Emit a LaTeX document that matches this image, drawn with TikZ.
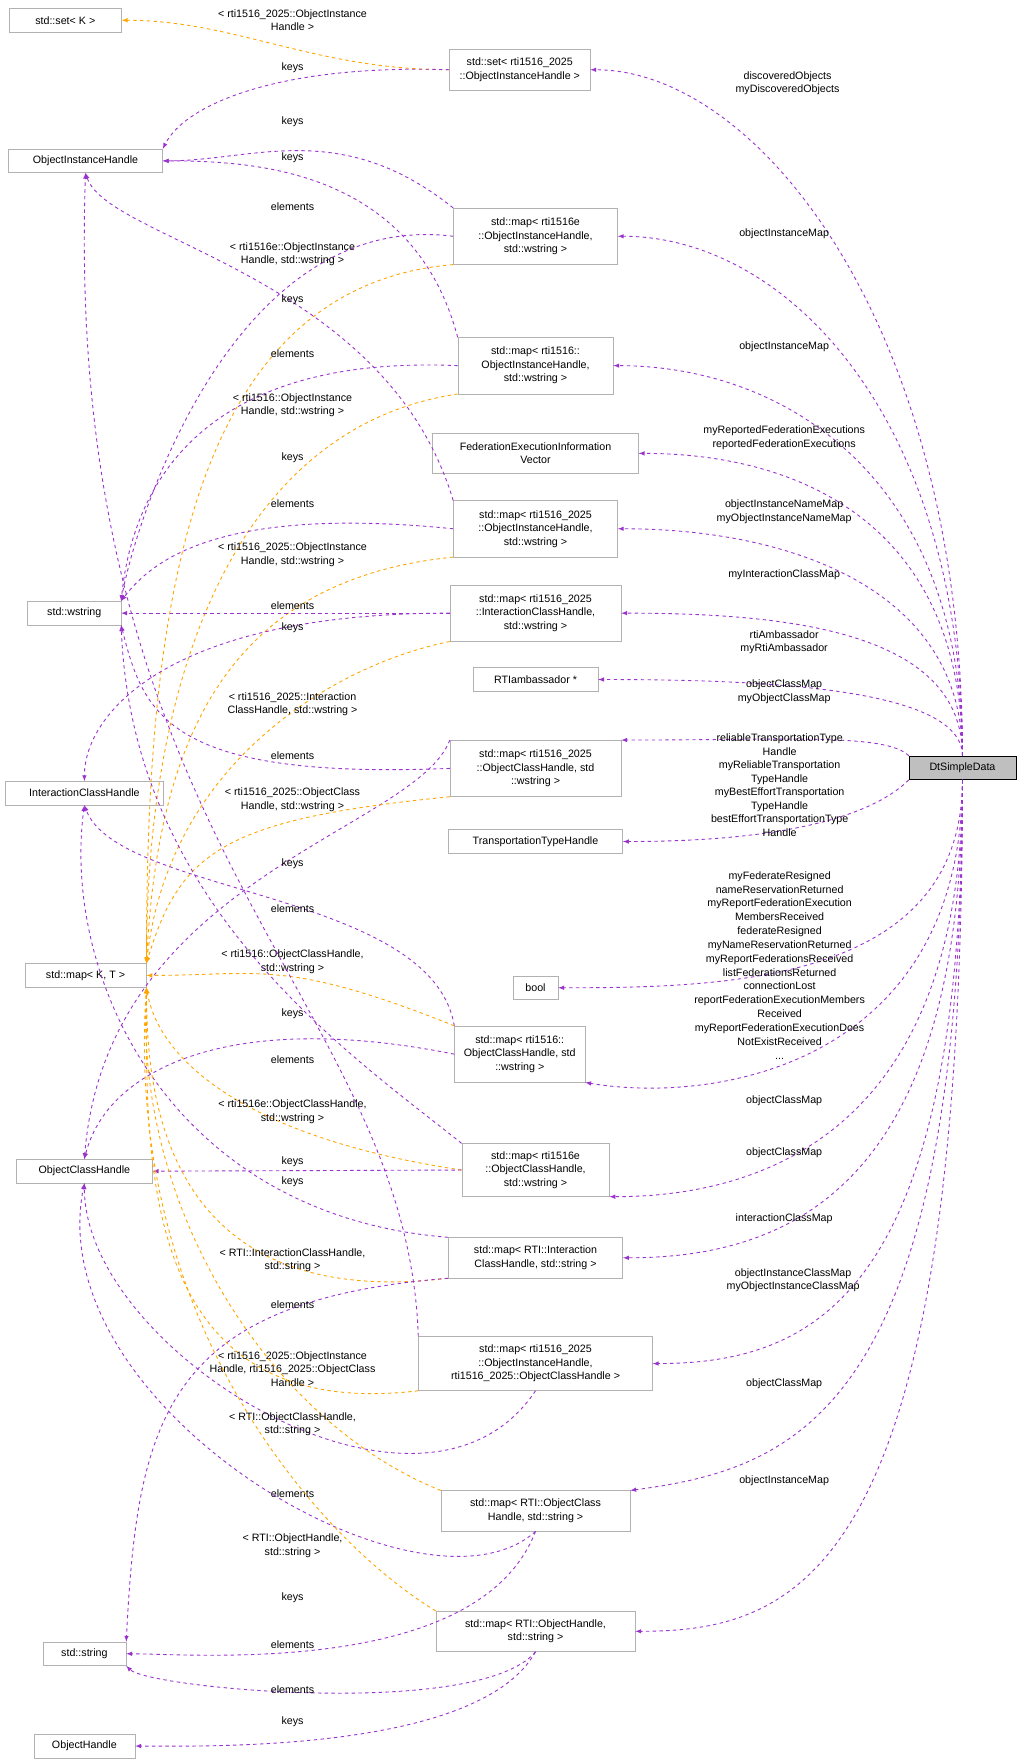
\documentclass[tikz,border=0pt]{standalone}
\usepackage{fontspec}
\setmainfont{Liberation Sans}
\begin{document}
\begin{tikzpicture}[x=1pt,y=-1pt,font=\fontsize{9.5}{12}\selectfont,
 bx/.style={draw=black!30,fill=white,align=center,inner sep=1pt,minimum height=21},
 pe/.style={draw=purple!50!violet!90,color={rgb,255:red,154;green,50;blue,205},dashed,-latex,thick},
 oe/.style={color={rgb,255:red,255;green,165;blue,0},dashed,-latex,thick},
 lb/.style={align=center,inner sep=0pt}]
\useasboundingbox (0,0) rectangle (905.8,1565.3);
% left column
\node[bx,minimum width=100] (setK) at (58,18) {std::set< K >};
\node[bx,minimum width=137] (oih) at (76,143) {ObjectInstanceHandle};
\node[bx,minimum width=83] (ws) at (66,545) {std::wstring};
\node[bx,minimum width=140] (ich) at (75,705) {InteractionClassHandle};
\node[bx,minimum width=108] (mkt) at (76,867) {std::map< K, T >};
\node[bx,minimum width=121] (och) at (75,1041) {ObjectClassHandle};
\node[bx,minimum width=74] (str) at (75,1470) {std::string};
\node[bx,minimum width=90] (oh) at (75,1552) {ObjectHandle};
% middle column
\node[bx,minimum width=125,minimum height=36] (s25) at (462,62) {std::set< rti1516\_2025\\::ObjectInstanceHandle >};
\node[bx,minimum width=146,minimum height=50] (meoih) at (476,210) {std::map< rti1516e\\::ObjectInstanceHandle,\\std::wstring >};
\node[bx,minimum width=138,minimum height=50] (m6oih) at (476,325) {std::map< rti1516::\\ObjectInstanceHandle,\\std::wstring >};
\node[bx,minimum width=183,minimum height=36] (feiv) at (476,403) {FederationExecutionInformation\\Vector};
\node[bx,minimum width=146,minimum height=50] (m25oih) at (476,470) {std::map< rti1516\_2025\\::ObjectInstanceHandle,\\std::wstring >};
\node[bx,minimum width=152,minimum height=50] (m25ich) at (476,545) {std::map< rti1516\_2025\\::InteractionClassHandle,\\std::wstring >};
\node[bx,minimum width=111] (rtia) at (476,604) {RTIambassador *};
\node[bx,minimum width=152,minimum height=50] (m25och) at (476,683) {std::map< rti1516\_2025\\::ObjectClassHandle, std\\::wstring >};
\node[bx,minimum width=155] (tth) at (476,748) {TransportationTypeHandle};
\node[bx,minimum width=40] (bool) at (476,878) {bool};
\node[bx,minimum width=116,minimum height=50] (m6och) at (462,937) {std::map< rti1516::\\ObjectClassHandle, std\\::wstring >};
\node[bx,minimum width=131,minimum height=47] (meoch) at (476,1040) {std::map< rti1516e\\::ObjectClassHandle,\\std::wstring >};
\node[bx,minimum width=155,minimum height=36] (mrich) at (476,1118) {std::map< RTI::Interaction\\ClassHandle, std::string >};
\node[bx,minimum width=208,minimum height=48] (m25oioc) at (476,1212) {std::map< rti1516\_2025\\::ObjectInstanceHandle,\\rti1516\_2025::ObjectClassHandle >};
\node[bx,minimum width=168,minimum height=36] (mroch) at (476,1343) {std::map< RTI::ObjectClass\\Handle, std::string >};
\node[bx,minimum width=177,minimum height=36] (mroh) at (476,1450) {std::map< RTI::ObjectHandle,\\std::string >};
\node[bx,draw=black,fill=black!25,minimum width=95] (dt) at (855.5,682.5) {DtSimpleData};
% right edges
\draw[pe] (dt.north) .. controls +(0,-380) and +(150,0) .. (s25.east);
\draw[pe] (dt.north) .. controls +(0,-300) and +(150,0) .. (meoih.east);
\draw[pe] (dt.north) .. controls +(0,-250) and +(150,0) .. (m6oih.east);
\draw[pe] (dt.north) .. controls +(0,-200) and +(150,0) .. (feiv.east);
\draw[pe] (dt.north) .. controls +(0,-150) and +(150,0) .. (m25oih.east);
\draw[pe] (dt.north) .. controls +(0,-110) and +(150,0) .. (m25ich.east);
\draw[pe] (dt.north) .. controls +(0,-60) and +(150,0) .. (rtia.east);
\draw[pe] (dt.north west) .. controls +(-20,-20) and +(150,0) .. (m25och.north east);
\draw[pe] (dt.south west) .. controls +(-30,30) and +(150,0) .. (tth.east);
\draw[pe] (dt.south) .. controls +(0,180) and +(150,0) .. (bool.east);
\draw[pe] (dt.south) .. controls +(0,250) and +(120,20) .. (m6och.south east);
\draw[pe] (dt.south) .. controls +(0,300) and +(150,0) .. (meoch.south east);
\draw[pe] (dt.south) .. controls +(0,360) and +(150,0) .. (mrich.east);
\draw[pe] (dt.south) .. controls +(0,450) and +(150,0) .. (m25oioc.east);
\draw[pe] (dt.south) .. controls +(0,560) and +(150,-20) .. (mroch.north east);
\draw[pe] (dt.south) .. controls +(0,700) and +(150,0) .. (mroh.east);
\node[lb] at (700,74) {discoveredObjects\\myDiscoveredObjects};
\node[lb] at (697,208) {objectInstanceMap};
\node[lb] at (697,308) {objectInstanceMap};
\node[lb] at (697,389) {myReportedFederationExecutions\\reportedFederationExecutions};
\node[lb] at (697,455) {objectInstanceNameMap\\myObjectInstanceNameMap};
\node[lb] at (697,511) {myInteractionClassMap};
\node[lb] at (697,571) {rtiAmbassador\\myRtiAmbassador};
\node[lb] at (697,615) {objectClassMap\\myObjectClassMap};
\node[lb] at (693,698) {reliableTransportationType\\Handle\\myReliableTransportation\\TypeHandle\\myBestEffortTransportation\\TypeHandle\\bestEffortTransportationType\\Handle};
\node[lb,font=\fontsize{9.5}{12.3}\selectfont] at (693,858) {myFederateResigned\\nameReservationReturned\\myReportFederationExecution\\MembersReceived\\federateResigned\\myNameReservationReturned\\myReportFederationsReceived\\listFederationsReturned\\connectionLost\\reportFederationExecutionMembers\\Received\\myReportFederationExecutionDoes\\NotExistReceived\\...};
\node[lb] at (697,978) {objectClassMap};
\node[lb] at (697,1025) {objectClassMap};
\node[lb] at (697,1083) {interactionClassMap};
\node[lb] at (705,1138) {objectInstanceClassMap\\myObjectInstanceClassMap};
\node[lb] at (697,1230) {objectClassMap};
\node[lb] at (697,1316) {objectInstanceMap};
% left edges
\draw[oe] (s25.west) .. controls +(-120,0) and +(100,0) .. (setK.east);
\node[lb] at (260,18) {< rti1516\_2025::ObjectInstance\\Handle >};
\draw[pe] (s25.west) .. controls +(-150,-5) and +(20,-40) .. (oih.north east);
\node[lb] at (260,60) {keys};
\draw[pe] (meoih.north west) .. controls +(-100,-80) and +(80,0) .. (oih.east);
\node[lb] at (260,108) {keys};
\draw[pe] (meoih.west) .. controls +(-200,-25) and +(10,-60) .. (ws.north east);
\node[lb] at (260,184) {elements};
\draw[oe] (meoih.south west) .. controls +(-240,20) and +(0,-300) .. (mkt.north east);
\node[lb] at (260,226) {< rti1516e::ObjectInstance\\Handle, std::wstring >};
\draw[pe] (m6oih.north west) .. controls +(-40,-150) and +(80,0) .. (oih.east);
\node[lb] at (260,140) {keys};
\draw[pe] (m6oih.west) .. controls +(-230,-10) and +(10,-100) .. (ws.north east);
\node[lb] at (260,314) {elements};
\draw[oe] (m6oih.south west) .. controls +(-200,30) and +(0,-250) .. (mkt.north east);
\node[lb] at (260,360) {< rti1516::ObjectInstance\\Handle, std::wstring >};
\draw[pe] (m25oih.north west) .. controls +(-60,-200) and +(20,60) .. (oih.south);
\node[lb] at (260,266) {keys};
\draw[pe] (m25oih.west) .. controls +(-200,-20) and +(30,-40) .. (ws.north east);
\node[lb] at (260,448) {elements};
\draw[oe] (m25oih.south west) .. controls +(-200,20) and +(10,-200) .. (mkt.north east);
\node[lb] at (260,493) {< rti1516\_2025::ObjectInstance\\Handle, std::wstring >};
\draw[pe] (m25ich.west) -- (ws.east);
\node[lb] at (260,538) {elements};
\draw[pe] (m25ich.west) .. controls +(-250,0) and +(0,-60) .. (ich.north);
\node[lb] at (260,558) {keys};
\draw[oe] (m25ich.south west) .. controls +(-100,20) and +(20,-180) .. (mkt.north east);
\node[lb] at (260,626) {< rti1516\_2025::Interaction\\ClassHandle, std::wstring >};
\draw[pe] (m25och.west) .. controls +(-250,10) and +(20,80) .. (ws.south east);
\node[lb] at (260,672) {elements};
\draw[pe] (m25och.north west) .. controls +(-30,80) and +(20,-250) .. (och.north);
\node[lb] at (260,768) {keys};
\draw[oe] (m25och.south west) .. controls +(-200,20) and +(30,-100) .. (mkt.north east);
\node[lb] at (260,711) {< rti1516\_2025::ObjectClass\\Handle, std::wstring >};
\draw[pe] (m6och.north west) .. controls +(-20,-120) and +(30,80) .. (ich.south);
\node[lb] at (260,808) {elements};
\draw[oe] (m6och.north west) .. controls +(-150,-60) and +(100,0) .. (mkt.east);
\node[lb] at (260,855) {< rti1516::ObjectClassHandle,\\std::wstring >};
\draw[pe] (m6och.west) .. controls +(-200,-40) and +(20,-80) .. (och.north);
\node[lb] at (260,901) {keys};
\draw[pe] (meoch.north west) .. controls +(-100,-80) and +(10,250) .. (ws.south east);
\node[lb] at (260,942) {elements};
\draw[oe] (meoch.west) .. controls +(-200,-30) and +(10,60) .. (mkt.south east);
\node[lb] at (260,988) {< rti1516e::ObjectClassHandle,\\std::wstring >};
\draw[pe] (meoch.west) -- (och.east);
\node[lb] at (260,1033) {keys};
\draw[pe] (mrich.north west) .. controls +(-250,-20) and +(-20,150) .. (ich.south);
\node[lb] at (260,1050) {keys};
\draw[oe] (mrich.south west) .. controls +(-250,30) and +(0,100) .. (mkt.south east);
\node[lb] at (260,1120) {< RTI::InteractionClassHandle,\\std::string >};
\draw[pe] (mrich.south west) .. controls +(-250,20) and +(10,-200) .. (str.north east);
\node[lb] at (260,1160) {elements};
\draw[pe] (m25oioc.north west) .. controls +(-10,-300) and +(-20,600) .. (oih.south);
\node[lb] at (260,407) {keys};
\draw[oe] (m25oioc.south west) .. controls +(-250,30) and +(0,150) .. (mkt.south east);
\node[lb] at (260,1217) {< rti1516\_2025::ObjectInstance\\Handle, rti1516\_2025::ObjectClass\\Handle >};
\draw[pe] (m25oioc.south) .. controls +(-100,150) and +(0,150) .. (och.south);
\node[lb] at (260,1328) {elements};
\draw[oe] (mroch.north west) .. controls +(-150,-60) and +(-10,200) .. (mkt.south east);
\node[lb] at (260,1266) {< RTI::ObjectClassHandle,\\std::string >};
\draw[pe] (mroch.south) .. controls +(-100,90) and +(-40,200) .. (och.south);
\node[lb] at (260,1420) {keys};
\draw[pe] (mroch.south) .. controls +(-50,130) and +(60,0) .. (str.east);
\node[lb] at (260,1462) {elements};
\draw[oe] (mroh.north west) .. controls +(-100,-60) and +(-20,300) .. (mkt.south east);
\node[lb] at (260,1374) {< RTI::ObjectHandle,\\std::string >};
\draw[pe] (mroh.south) .. controls +(-50,60) and +(20,20) .. (str.south east);
\node[lb] at (260,1502) {elements};
\draw[pe] (mroh.south) .. controls +(-50,90) and +(60,0) .. (oh.east);
\node[lb] at (260,1530) {keys};
\end{tikzpicture}
\end{document}
